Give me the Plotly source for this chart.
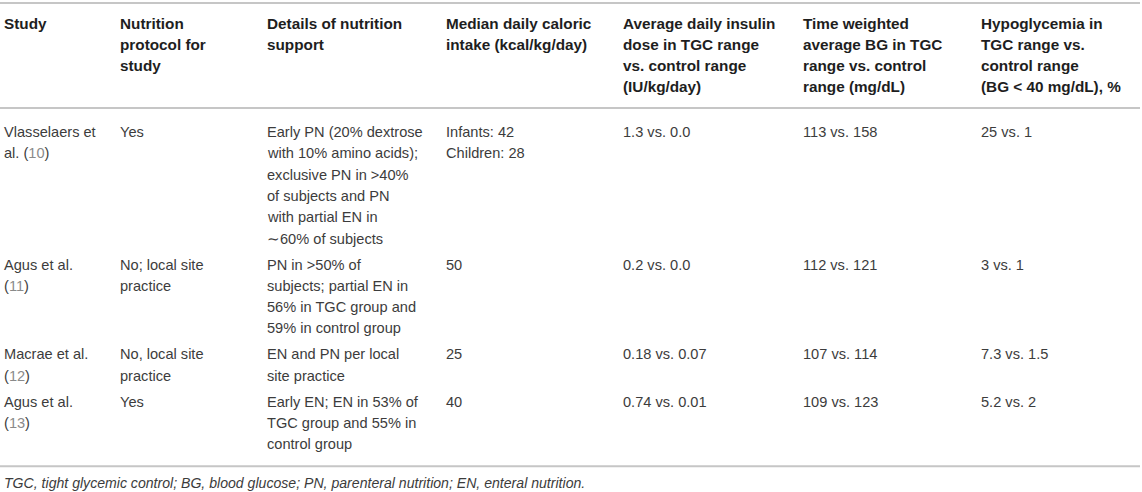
"""Nutrition support in paediatric TGC trials, drawn as a plain ruled table."""
import plotly.graph_objects as go

WIDTH, HEIGHT = 1142, 492

# ---- data ----
header_lines = [
    ["Study"],
    ["Nutrition", "protocol for", "study"],
    ["Details of nutrition", "support"],
    ["Median daily caloric", "intake (kcal/kg/day)"],
    ["Average daily insulin", "dose in TGC range", "vs. control range", "(IU/kg/day)"],
    ["Time weighted", "average BG in TGC", "range vs. control", "range (mg/dL)"],
    ["Hypoglycemia in", "TGC range vs.", "control range", "(BG &lt; 40 mg/dL), %"],
]

study_lines = [
    ["Vlasselaers et", "al. ({ref})"],
    ["Agus et al.", "({ref})"],
    ["Macrae et al.", "({ref})"],
    ["Agus et al.", "({ref})"],
]
ref_numbers = ["10", "11", "12", "13"]

protocol_lines = [
    ["Yes"],
    ["No; local site", "practice"],
    ["No, local site", "practice"],
    ["Yes"],
]

details_lines = [
    ["Early PN (20% dextrose", "with 10% amino acids);", "exclusive PN in &gt;40%",
     "of subjects and PN", "with partial EN in", "∼60% of subjects"],
    ["PN in &gt;50% of", "subjects; partial EN in", "56% in TGC group and",
     "59% in control group"],
    ["EN and PN per local", "site practice"],
    ["Early EN; EN in 53% of", "TGC group and 55% in", "control group"],
]

caloric_lines = [["Infants: 42", "Children: 28"], ["50"], ["25"], ["40"]]
insulin_dose = ["1.3 vs. 0.0", "0.2 vs. 0.0", "0.18 vs. 0.07", "0.74 vs. 0.01"]
weighted_bg = ["113 vs. 158", "112 vs. 121", "107 vs. 114", "109 vs. 123"]
hypoglycemia = ["25 vs. 1", "3 vs. 1", "7.3 vs. 1.5", "5.2 vs. 2"]

footnote = ("TGC, tight glycemic control; BG, blood glucose; PN, parenteral nutrition; "
            "EN, enteral nutrition.")

# ---- layout ----
col_x = [3, 119, 266, 445, 622, 802, 980]
LINE = 21.3
ROW_PAD = 4.7
HEAD_Y0 = 23
BODY_Y0 = 132
RULE_COLOR = "#c6c6c6"
FONT = "Liberation Sans, Arial, Helvetica, sans-serif"

fig = go.Figure()


def put(x, y, text, size, color, bold=False, italic=False):
    if bold:
        text = f"<b>{text}</b>"
    if italic:
        text = f"<i>{text}</i>"
    fig.add_annotation(
        x=x, y=y, xref="x", yref="y", text=text, showarrow=False,
        xanchor="left", yanchor="middle", borderpad=0,
        font=dict(family=FONT, size=size, color=color),
    )


# header
for cx, lines in zip(col_x, header_lines):
    for i, line in enumerate(lines):
        put(cx, HEAD_Y0 + i * LINE, line, 15.3, "#1e1e1e", bold=True)

# body rows
rows = []
for r in range(len(study_lines)):
    ref = f'<span style="color:#8a8a8a">{ref_numbers[r]}</span>'
    rows.append([
        [s.format(ref=ref) for s in study_lines[r]],
        protocol_lines[r],
        details_lines[r],
        caloric_lines[r],
        [insulin_dose[r]],
        [weighted_bg[r]],
        [hypoglycemia[r]],
    ])

y = BODY_Y0
for cells in rows:
    for cx, lines in zip(col_x, cells):
        for i, line in enumerate(lines):
            put(cx, y + i * LINE, line, 14.6, "#3c3c3c")
    y += max(len(c) for c in cells) * LINE + ROW_PAD

last_line = y - ROW_PAD - LINE
bottom_rule = last_line + 22
rules = [3, 108, bottom_rule]
for ry in rules:
    fig.add_shape(type="line", xref="x", yref="y", x0=0, x1=1140, y0=ry, y1=ry,
                  line=dict(color=RULE_COLOR, width=2))

put(col_x[0], bottom_rule + 17, footnote, 14.1, "#3c3c3c", italic=True)

fig.update_layout(
    width=WIDTH, height=HEIGHT,
    margin=dict(l=0, r=0, t=0, b=0),
    paper_bgcolor="white", plot_bgcolor="white",
    showlegend=False,
    xaxis=dict(range=[0, WIDTH], visible=False, fixedrange=True),
    yaxis=dict(range=[HEIGHT, 0], visible=False, fixedrange=True),
)

# the page body has a default 8px margin; drop it so the table fills the window
fig.write_html(
    "out.html",
    config={"displayModeBar": False},
    post_script="document.body.style.margin='0';document.body.style.overflow='hidden';",
)
